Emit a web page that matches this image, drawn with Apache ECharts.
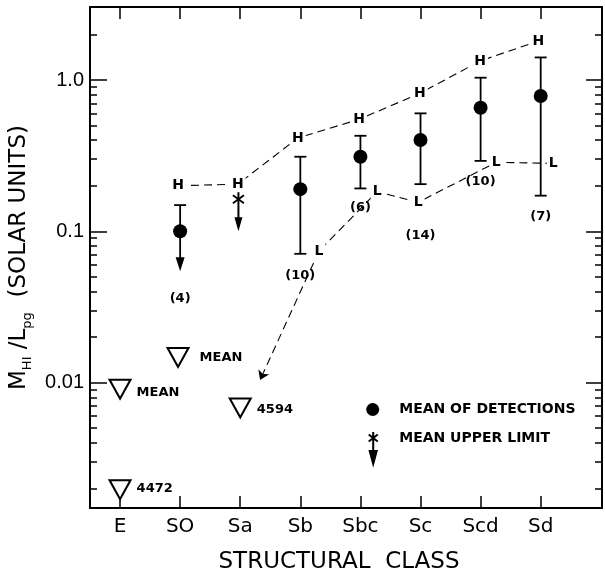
<!DOCTYPE html>
<html><head><meta charset="utf-8">
<script src="https://cdn.jsdelivr.net/npm/echarts@6/dist/echarts.min.js"></script>
<style>html,body{margin:0;padding:0;background:#fff}#c{width:605px;height:571px}</style>
</head><body><div id="c"></div>
<script>
// ---------------- data ----------------
const categories = ['E', 'SO', 'Sa', 'Sb', 'Sbc', 'Sc', 'Scd', 'Sd'];
const categoryIdx = [0, 1, 2, 3, 4, 5, 6, 7];

// mean of detections (filled circles) with ranges
const detX = [1, 3, 4, 5, 6, 7];
const detMean = [0.100, 0.190, 0.311, 0.401, 0.656, 0.784];
const detHigh = [0.149, 0.311, 0.428, 0.602, 1.036, 1.41];
const detLow = [null, 0.071, 0.192, 0.205, 0.292, 0.172];
const detCount = ['(4)', '(10)', '(6)', '(14)', '(10)', '(7)'];

// mean upper limit (asterisk)
const limX = [1.97];
const limMean = [0.163];

// "H" envelope
const highX = [0.965, 1.96, 2.96, 3.98, 4.99, 5.99, 6.96];
const highVal = [0.200, 0.205, 0.414, 0.550, 0.817, 1.335, 1.81];

// "L" envelope (last point is the arrow tip)
const lowX = [7.21, 6.26, 4.96, 4.28, 3.31, 2.33];
const lowVal = [0.2814, 0.2858, 0.1555, 0.183, 0.074, 0.0104];
const lowLabels = ['L', 'L', 'L', 'L', 'L'];

// open triangles (upper limits)
const triX = [0, 0.965, 2, 0];
const triVal = [0.00904, 0.01466, 0.00680, 0.00196];
const triLabel = ['MEAN', 'MEAN', '4594', '4472'];

// y ticks
const majorTicks = [0.01, 0.1, 1];
const majorTickLabels = ['0.01', '0.1', '1.0'];
const minorTicks = [0.002, 0.003, 0.004, 0.005, 0.006, 0.007, 0.008, 0.009,
  0.02, 0.03, 0.04, 0.05, 0.06, 0.07, 0.08, 0.09,
  0.2, 0.3, 0.4, 0.5, 0.6, 0.7, 0.8, 0.9, 2];

// ---------------- styles ----------------
const Y_MIN = 0.001483, Y_MAX = 3.038;
const X_MIN = -0.5, X_MAX = 8.02;
const countGap = [27, 22, 19, 51, 21, 21];
const detArrowLen = 40;
const limArrowLen = 32;
const triLabelOffset = [[0, 3], [5, 0], [0, 2], [0, -1]];
const annFont = 'bold 14px "DejaVu Sans"';
const BLACK = '#000';

const chart = echarts.init(document.getElementById('c'), null, {renderer: 'canvas'});

function yAxisDef(pos, len, ticks, withLabels) {
  const ax = {
    type: 'log', logBase: 10, min: Y_MIN, max: Y_MAX, position: pos,
    axisLine: {show: true, onZero: false, lineStyle: {color: BLACK, width: 1.8}},
    axisTick: {show: true, inside: true, length: len, customValues: ticks, lineStyle: {color: BLACK, width: 1.5}},
    axisLabel: {show: false},
    splitLine: {show: false}, minorTick: {show: false}, minorSplitLine: {show: false}
  };
  if (withLabels) {
    ax.axisLabel = {
      show: true, customValues: majorTicks, margin: 6,
      formatter: v => majorTickLabels[majorTicks.findIndex(t => Math.abs(t - v) / t < 1e-6)],
      fontFamily: '"Liberation Sans Narrow", "Liberation Sans", sans-serif', fontSize: 20, color: BLACK
    };
    ax.name = '{m|M}{s|HI}{m| /L}{s|pg}{m|  (SOLAR UNITS)}';
    ax.nameLocation = 'middle';
    ax.nameRotate = 90;
    ax.nameGap = 36;
    ax.nameTextStyle = {
      rich: {
        m: {fontFamily: 'DejaVu Sans', fontSize: 23, color: BLACK, lineHeight: 30, verticalAlign: 'middle'},
        s: {fontFamily: 'DejaVu Sans', fontSize: 13, color: BLACK, lineHeight: 16, verticalAlign: 'bottom'}
      }
    };
  }
  return ax;
}

function xAxisDef(pos, withLabels) {
  const ax = {
    type: 'value', min: X_MIN, max: X_MAX, position: pos,
    axisLine: {show: true, onZero: false, lineStyle: {color: BLACK, width: 1.8}},
    axisTick: {show: true, inside: true, length: 12, customValues: categoryIdx, lineStyle: {color: BLACK, width: 1.5}},
    axisLabel: {show: false},
    splitLine: {show: false}
  };
  if (withLabels) {
    ax.axisLabel = {
      show: true, customValues: categoryIdx, margin: 9,
      formatter: v => categories[Math.round(v)],
      fontFamily: 'DejaVu Sans', fontSize: 20, color: BLACK
    };
    ax.name = 'STRUCTURAL  CLASS';
    ax.nameLocation = 'middle';
    ax.nameGap = 43;
    ax.nameTextStyle = {fontFamily: 'DejaVu Sans', fontSize: 23, color: BLACK, padding: [0, 14, 0, 0]};
  }
  return ax;
}

function letterRender(labels) {
  return function (params, api) {
    const p = api.coord([api.value(0), api.value(1)]);
    return {
      type: 'text', x: p[0], y: p[1],
      style: {text: labels[params.dataIndex], font: annFont, fill: BLACK, align: 'center',
        verticalAlign: 'middle', backgroundColor: '#fff', padding: [1, 2]}
    };
  };
}

const legendText = {fontFamily: 'DejaVu Sans', fontWeight: 'bold', fontSize: 14, color: BLACK};

const option = {
  animation: false,
  backgroundColor: '#fff',
  grid: {left: 90, right: 3, top: 7, bottom: 63, containLabel: false, outerBoundsMode: 'none'},
  xAxis: [xAxisDef('bottom', true), xAxisDef('top', false)],
  yAxis: [
    yAxisDef('left', 17, majorTicks, true),
    yAxisDef('left', 7, minorTicks, false),
    yAxisDef('right', 16, majorTicks, false),
    yAxisDef('right', 7, minorTicks, false)
  ],
  legend: [
    {
      data: [{name: 'MEAN OF DETECTIONS', icon: 'circle', itemStyle: {color: BLACK, opacity: 1}}],
      left: 366.2, top: 402.5, padding: 0, itemWidth: 13, itemHeight: 13, selectedMode: false,
      formatter: n => '{t|' + n + '}',
      textStyle: {rich: {t: Object.assign({padding: [0, 0, 0, 15]}, legendText)}}
    },
    {
      data: [{
        name: 'MEAN UPPER LIMIT',
        icon: 'path://M5,0L5,12M0.5,2.5L9.5,9.5M0.5,9.5L9.5,2.5M5,6L5,20M1.5,19L8.5,19L5,32Z',
        itemStyle: {color: BLACK, borderColor: BLACK, borderWidth: 2, opacity: 1}
      }],
      left: 367.7, top: 431, padding: 0, itemWidth: 10, itemHeight: 32, selectedMode: false,
      formatter: n => '{t|' + n + '}\n{g| }',
      textStyle: {rich: {
        t: Object.assign({padding: [0, 0, 0, 16], lineHeight: 18}, legendText),
        g: {fontSize: 10, lineHeight: 20}
      }}
    }
  ],
  series: [
    // H envelope dashed line
    {
      type: 'line', name: 'H line', xAxisIndex: 0, yAxisIndex: 0, silent: true, z: 2,
      data: highX.map((x, i) => [x, highVal[i]]), symbol: 'none',
      lineStyle: {color: BLACK, width: 1.1, type: [8, 5]}
    },
    // L envelope dashed line
    {
      type: 'line', name: 'L line', xAxisIndex: 0, yAxisIndex: 0, silent: true, z: 2,
      data: lowX.slice(0, 5).map((x, i) => [x, lowVal[i]]), symbol: 'none',
      lineStyle: {color: BLACK, width: 1.1, type: [8, 5]}
    },
    // last L segment with arrow
    {
      type: 'lines', name: 'L arrow', coordinateSystem: 'cartesian2d', xAxisIndex: 0, yAxisIndex: 0, silent: true, z: 2,
      symbol: ['none', 'arrow'], symbolSize: 9,
      lineStyle: {color: BLACK, width: 1.1, type: [8, 5], opacity: 1},
      data: [{coords: [[lowX[4], lowVal[4]], [lowX[5], lowVal[5]]]}]
    },
    // H letters
    {
      type: 'custom', name: 'H', xAxisIndex: 0, yAxisIndex: 0, silent: true, z: 5,
      data: highX.map((x, i) => [x, highVal[i]]),
      renderItem: letterRender(highX.map(() => 'H'))
    },
    // L letters
    {
      type: 'custom', name: 'L', xAxisIndex: 0, yAxisIndex: 0, silent: true, z: 5,
      data: lowX.slice(0, 5).map((x, i) => [x, lowVal[i]]),
      renderItem: letterRender(lowLabels)
    },
    // error bars, arrows and counts for detections
    {
      type: 'custom', name: 'ranges', xAxisIndex: 0, yAxisIndex: 0, silent: true, z: 6,
      data: detX.map((x, i) => [x, detMean[i]]),
      renderItem: function (params, api) {
        const i = params.dataIndex;
        const x = api.value(0);
        const pM = api.coord([x, detMean[i]]);
        const pH = api.coord([x, detHigh[i]]);
        const cap = 6, lw = 1.8;
        const st = {stroke: BLACK, lineWidth: lw};
        const ch = [];
        ch.push({type: 'line', shape: {x1: pH[0] - cap, y1: pH[1], x2: pH[0] + cap, y2: pH[1]}, style: st});
        let bottom;
        if (detLow[i] != null) {
          const pL = api.coord([x, detLow[i]]);
          ch.push({type: 'line', shape: {x1: pH[0], y1: pH[1], x2: pL[0], y2: pL[1]}, style: st});
          ch.push({type: 'line', shape: {x1: pL[0] - cap, y1: pL[1], x2: pL[0] + cap, y2: pL[1]}, style: st});
          bottom = pL[1];
        } else {
          const tip = pM[1] + detArrowLen;
          const head = 14;
          ch.push({type: 'line', shape: {x1: pH[0], y1: pH[1], x2: pM[0], y2: tip - head + 1}, style: st});
          ch.push({type: 'polygon', shape: {points: [[pM[0] - 4.5, tip - head], [pM[0] + 4.5, tip - head], [pM[0], tip]]}, style: {fill: BLACK}});
          bottom = tip;
        }
        ch.push({type: 'text', x: pM[0], y: bottom + countGap[i],
          style: {text: detCount[i], font: 'bold 13px "DejaVu Sans"', fill: BLACK, align: 'center', verticalAlign: 'middle'}});
        return {type: 'group', children: ch};
      }
    },
    // mean of detections
    {
      type: 'scatter', name: 'MEAN OF DETECTIONS', xAxisIndex: 0, yAxisIndex: 0, z: 7,
      data: detX.map((x, i) => [x, detMean[i]]),
      symbol: 'circle', symbolSize: 14, itemStyle: {color: BLACK, opacity: 1}
    },
    // mean upper limit
    {
      type: 'custom', name: 'MEAN UPPER LIMIT', xAxisIndex: 0, yAxisIndex: 0, z: 7,
      itemStyle: {color: BLACK, opacity: 1},
      data: limX.map((x, i) => [x, limMean[i]]),
      renderItem: function (params, api) {
        const p = api.coord([api.value(0), api.value(1)]);
        const st = {stroke: BLACK, lineWidth: 2};
        const r = 7, dx = 5.5, dy = 4;
        const tip = p[1] + limArrowLen, head = 14;
        return {type: 'group', children: [
          {type: 'line', shape: {x1: p[0], y1: p[1] - r, x2: p[0], y2: tip - head + 1}, style: st},
          {type: 'line', shape: {x1: p[0] - dx, y1: p[1] - dy, x2: p[0] + dx, y2: p[1] + dy}, style: st},
          {type: 'line', shape: {x1: p[0] - dx, y1: p[1] + dy, x2: p[0] + dx, y2: p[1] - dy}, style: st},
          {type: 'polygon', shape: {points: [[p[0] - 4, tip - head], [p[0] + 4, tip - head], [p[0], tip]]}, style: {fill: BLACK}}
        ]};
      }
    },
    // open triangles
    {
      type: 'scatter', name: 'limits', xAxisIndex: 0, yAxisIndex: 0, z: 7,
      symbol: 'path://M0,0L20,0L10,18Z', symbolSize: [21, 19],
      itemStyle: {color: '#fff', borderColor: BLACK, borderWidth: 2, opacity: 1},
      data: triX.map((x, i) => ({
        value: [x, triVal[i]],
        label: {show: true, position: 'right', distance: 5, offset: triLabelOffset[i],
          formatter: triLabel[i], fontFamily: 'DejaVu Sans', fontWeight: 'bold', fontSize: 13, color: BLACK}
      }))
    }
  ]
};
chart.setOption(option);
</script>
</body></html>
